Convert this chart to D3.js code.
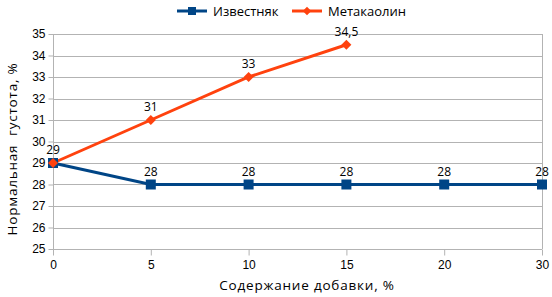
<!DOCTYPE html>
<head>
    <style>
        body { margin: 0; background: #fff; }
        svg { font-family: 'Open Sans', sans-serif; }
        .grid line { stroke: #b3b3b3; stroke-width: 1px; }
        .axis path, .axis line { stroke: #b3b3b3; }
        .axis text { fill: #000; font-size: 12px; }
        path.line { fill: none; stroke-width: 3px; }
        text.lbl { font-size: 12px; fill: #000; text-anchor: middle; }
        text.title { font-size: 13.5px; letter-spacing: 0.8px; fill: #000; }
        text.leg { font-size: 13px; fill: #000; }
    </style>
</head>
<body>
    <script src="https://d3js.org/d3.v7.min.js"></script>
    <script>
        var categories = ['0', '5', '10', '15', '20', '30'];
        var limestone = [29, 28, 28, 28, 28, 28];
        var metakaolin = [29, 31, 33, 34.5];
        var yTicks = [25, 26, 27, 28, 29, 30, 31, 32, 33, 34, 35];

        var series = [
            {name: 'Известняк', values: limestone, color: '#004586', marker: 'square'},
            {name: 'Метакаолин', values: metakaolin, color: '#ff420e', marker: 'diamond'}
        ];

        var dim = {w: 552, h: 297,
                   margin: {left: 53, right: 10, top: 34, bottom: 48}};

        var svg = d3.select('body')
                    .append('svg')
                    .attr('width', dim.w)
                    .attr('height', dim.h);

        var x_scale = d3.scalePoint()
                        .domain(categories)
                        .range([dim.margin.left, dim.w - dim.margin.right]);
        var y_scale = d3.scaleLinear()
                        .domain([25, 35])
                        .range([dim.h - dim.margin.bottom, dim.margin.top]);

        // horizontal grid
        svg.append('g')
           .attr('class', 'grid')
           .selectAll('line')
           .data(yTicks)
           .enter()
           .append('line')
           .attr('x1', dim.margin.left)
           .attr('x2', dim.w - dim.margin.right)
           .attr('y1', d => Math.round(y_scale(d)) + 0.5)
           .attr('y2', d => Math.round(y_scale(d)) + 0.5);

        // right border line
        svg.append('line')
           .attr('x1', dim.w - dim.margin.right + 0.5)
           .attr('x2', dim.w - dim.margin.right + 0.5)
           .attr('y1', y_scale(35))
           .attr('y2', y_scale(25))
           .attr('stroke', '#b3b3b3');

        svg.append('g')
           .attr('class', 'axis')
           .attr('transform', 'translate(0,' + (Math.round(y_scale(25)) + 0.5) + ')')
           .call(d3.axisBottom(x_scale).tickSize(6).tickPadding(5))
           .call(g => g.select('.domain').remove());

        svg.append('g')
           .attr('class', 'axis')
           .attr('transform', 'translate(' + (dim.margin.left + 0.5) + ',0)')
           .call(d3.axisLeft(y_scale).tickValues(yTicks).tickSize(5).tickPadding(3))
           .call(g => g.select('.domain').attr('d',
                 'M0,' + y_scale(35) + 'V' + y_scale(25)));

        var line = d3.line()
                     .x((d, i) => x_scale(categories[i]))
                     .y(d => y_scale(d));

        series.forEach(function(s) {
            svg.append('path')
               .datum(s.values)
               .attr('class', 'line')
               .attr('stroke', s.color)
               .attr('d', line);
        });

        function marker(s, size) {
            // square for limestone, square turned 45 degrees for metakaolin
            var rot = s.marker === 'square' ? '' : ' rotate(45)';
            return {d: d3.symbol().type(d3.symbolSquare).size(size)(), rot: rot};
        }

        series.forEach(function(s) {
            var m = marker(s, s.marker === 'square' ? 100 : 50);
            svg.append('g')
               .selectAll('path')
               .data(s.values)
               .enter()
               .append('path')
               .attr('d', m.d)
               .attr('fill', s.color)
               .attr('transform', (d, i) => 'translate(' + x_scale(categories[i]) + ',' + y_scale(d) + ')' + m.rot);
        });

        // data labels
        var fmt = d => String(d).replace('.', ',');
        svg.append('g')
           .selectAll('text')
           .data(limestone.slice(1))
           .enter()
           .append('text')
           .attr('class', 'lbl')
           .attr('x', (d, i) => x_scale(categories[i + 1]))
           .attr('y', d => y_scale(d) - 9)
           .text(fmt);
        svg.append('g')
           .selectAll('text')
           .data(metakaolin)
           .enter()
           .append('text')
           .attr('class', 'lbl')
           .attr('x', (d, i) => x_scale(categories[i]))
           .attr('y', d => y_scale(d) - 9)
           .text(fmt);

        // legend
        var legend = svg.append('g').attr('transform', 'translate(0,11)');
        var lx = [177, 292];
        series.forEach(function(s, i) {
            var g = legend.append('g').attr('transform', 'translate(' + lx[i] + ',0)');
            g.append('line')
             .attr('x1', 0).attr('x2', 30).attr('y1', 0).attr('y2', 0)
             .attr('stroke', s.color).attr('stroke-width', 3);
            var m = marker(s, s.marker === 'square' ? 64 : 36);
            g.append('path')
             .attr('d', m.d)
             .attr('fill', s.color)
             .attr('transform', 'translate(15,0)' + m.rot);
            g.append('text')
             .attr('class', 'leg')
             .attr('x', 36).attr('y', 5)
             .text(s.name);
        });

        // axis titles
        svg.append('text')
           .attr('class', 'title')
           .attr('x', 307)
           .attr('y', 290)
           .attr('text-anchor', 'middle')
           .text('Содержание добавки, %');
        svg.append('text')
           .attr('class', 'title')
           .attr('transform', 'translate(17,149) rotate(-90)')
           .attr('text-anchor', 'middle')
           .style('white-space', 'pre')
           .text('Нормальная  густота, %');
    </script>
</body>
